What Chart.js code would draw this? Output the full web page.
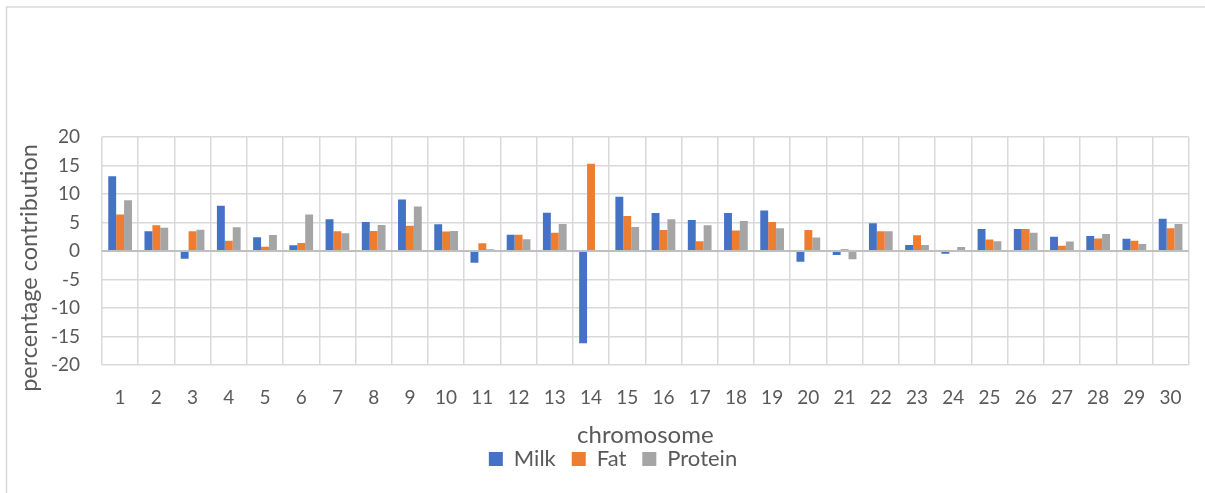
<!DOCTYPE html>
<html>
<head>
<meta charset="utf-8">
<script src="https://cdn.jsdelivr.net/npm/chart.js@4.4.1/dist/chart.umd.min.js"></script>
<style>
  html, body { margin: 0; padding: 0; background: #ffffff; }
  #wrap { width: 1205px; height: 493px; position: relative; }
</style>
</head>
<body>
<div id="wrap"><canvas id="chart" width="1205" height="493"></canvas></div>
<script>
// Chromosomes 1..30
const chromosomes = ['1','2','3','4','5','6','7','8','9','10','11','12','13','14','15',
                     '16','17','18','19','20','21','22','23','24','25','26','27','28','29','30'];

// Percentage contribution of each chromosome to the trait
const milk = [13.1, 3.45, -1.35, 7.95, 2.4, 1.0, 5.55, 5.1, 9.05, 4.7,
              -2.05, 2.85, 6.7, -16.2, 9.5, 6.65, 5.45, 6.65, 7.1, -1.9,
              -0.7, 4.85, 1.05, -0.5, 3.85, 3.85, 2.5, 2.65, 2.15, 5.65];
const fat = [6.4, 4.5, 3.45, 1.8, 0.75, 1.4, 3.45, 3.5, 4.45, 3.4,
             1.35, 2.85, 3.2, 15.3, 6.15, 3.7, 1.7, 3.6, 5.1, 3.7,
             0.3, 3.45, 2.75, 0, 2.0, 3.85, 0.9, 2.2, 1.8, 4.0];
const protein = [8.9, 4.1, 3.75, 4.15, 2.8, 6.4, 3.1, 4.55, 7.8, 3.5,
                 0.3, 2.05, 4.75, 0, 4.2, 5.55, 4.5, 5.25, 4.0, 2.35,
                 -1.45, 3.45, 1.05, 0.7, 1.7, 3.2, 1.65, 3.0, 1.25, 4.75];

const yMin = -20, yMax = 20, yStep = 5;

const FONT = 'Lato, "Liberation Sans", sans-serif';
const TEXT = '#595959';
const GRID = '#D9D9D9';

// Thin frame around the chart, plus white background
const framePlugin = {
  id: 'frame',
  beforeDraw(chart) {
    const ctx = chart.ctx;
    ctx.save();
    ctx.fillStyle = '#ffffff';
    ctx.fillRect(0, 0, chart.width, chart.height);
    ctx.strokeStyle = GRID;
    ctx.lineWidth = 1.5;
    ctx.beginPath();
    ctx.moveTo(6.5, chart.height);
    ctx.lineTo(6.5, 7);
    ctx.lineTo(chart.width, 7);
    ctx.stroke();
    ctx.restore();
  }
};

new Chart(document.getElementById('chart'), {
  type: 'bar',
  data: {
    labels: chromosomes,
    datasets: [
      { label: 'Milk', data: milk, backgroundColor: '#4472C4' },
      { label: 'Fat', data: fat, backgroundColor: '#ED7D31' },
      { label: 'Protein', data: protein, backgroundColor: '#A5A5A5' }
    ]
  },
  options: {
    responsive: false,
    animation: false,
    devicePixelRatio: 1,
    layout: { padding: { left: 37.3, right: 16.3, top: 137, bottom: 13 } },
    datasets: {
      bar: { categoryPercentage: 0.655, barPercentage: 1.0, borderWidth: 0 }
    },
    plugins: {
      tooltip: { enabled: false },
      legend: {
        position: 'bottom',
        labels: {
          color: TEXT,
          font: { family: FONT, size: 22 },
          boxWidth: 14,
          boxHeight: 14,
          padding: 16
        }
      }
    },
    scales: {
      x: {
        grid: { color: GRID, lineWidth: 1.5, offset: true, drawTicks: false },
        border: { display: false },
        ticks: { color: TEXT, font: { family: FONT, size: 19 }, padding: 21.6, maxRotation: 0 },
        title: {
          display: true, text: 'chromosome', color: TEXT,
          font: { family: FONT, size: 24 },
          padding: { top: 0, bottom: -17.4 }
        },
        afterFit(scale) { scale.height = 67; }
      },
      y: {
        min: yMin, max: yMax,
        grid: {
          drawTicks: false,
          lineWidth: (c) => (c.tick && c.tick.value === 0 ? 2 : 1.5),
          color: (c) => (c.tick && c.tick.value === 0 ? '#BFBFBF' : GRID)
        },
        border: { display: false },
        ticks: { stepSize: yStep, color: TEXT, font: { family: FONT, size: 19 }, padding: 22 },
        title: {
          display: true, text: 'percentage contribution', color: TEXT,
          font: { family: FONT, size: 23.5 },
          padding: { top: -21.7, bottom: 0 }
        },
        afterFit(scale) {
          scale.width = 64.7;
          // the axis title sits a little below the middle of the plot
          if (!scale._titleLowered) {
            const drawTitle = scale.drawTitle;
            scale.drawTitle = function () {
              const ctx = this.ctx;
              ctx.save();
              ctx.translate(0, 17);
              drawTitle.call(this);
              ctx.restore();
            };
            scale._titleLowered = true;
          }
        }
      }
    }
  },
  plugins: [framePlugin]
});
</script>
</body>
</html>
